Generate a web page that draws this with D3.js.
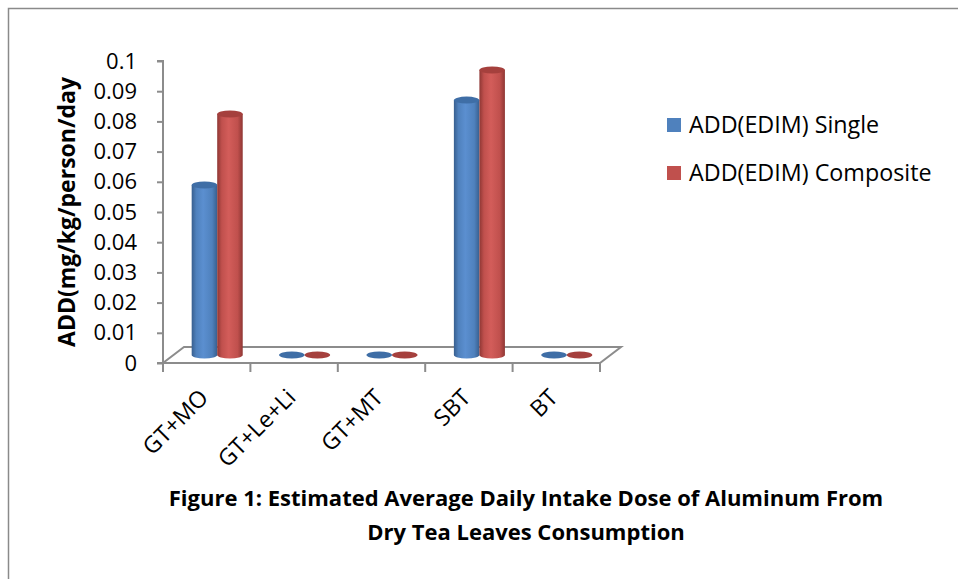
<!DOCTYPE html>
<html>
<head>
<meta charset="utf-8">
<script src="https://cdn.jsdelivr.net/npm/d3@7"></script>
<style>
  html, body { margin: 0; padding: 0; background: #fff; }
  svg { display: block; }
  text { font-family: "Open Sans", Lato, sans-serif; fill: #000; }
</style>
</head>
<body>
<svg id="chart" width="958" height="579"></svg>
<script>
// Data
const categories = ["GT+MO", "GT+Le+Li", "GT+MT", "SBT", "BT"];
const seriesNames = ["ADD(EDIM) Single", "ADD(EDIM) Composite"];
const singleValues = [0.0563, 0.0003, 0.0003, 0.0844, 0.0002];
const compositeValues = [0.0798, 0.0004, 0.0004, 0.0944, 0.0003];
const yTicks = [0, 0.01, 0.02, 0.03, 0.04, 0.05, 0.06, 0.07, 0.08, 0.09, 0.1];
const yLabel = "ADD(mg/kg/person/day";
const titleLines = ["Figure 1: Estimated Average Daily Intake Dose of Aluminum From",
                    "Dry Tea Leaves Consumption"];

const colors = {
  single:    { base: "#4F81BD", light: "#5b8fd0", dark: "#385f8f", top: "#3f6ea6" },
  composite: { base: "#C0504D", light: "#d35d5a", dark: "#8f3734", top: "#a5403d" }
};

const FONT = "'Open Sans', Lato, sans-serif";
const svg = d3.select("#chart");
const defs = svg.append("defs");

// Outer frame
svg.append("rect")
  .attr("x", 8.5).attr("y", 8.5).attr("width", 1000).attr("height", 1000)
  .attr("fill", "none").attr("stroke", "#8a8a8a").attr("stroke-width", 1.5);

// Plot geometry: front floor edge and depth offset of the 3D floor
const x0 = 163, x1 = 600, yZero = 363, yTop = 61;
const depth = { dx: 21, dy: -16 };

const x = d3.scaleBand().domain(categories).range([x0, x1]).paddingInner(0).paddingOuter(0);
const y = d3.scaleLinear().domain([0, 0.1]).range([yZero, yTop]);

// Floor (parallelogram)
const floorPts = [[x0, yZero], [x1, yZero], [x1 + depth.dx, yZero + depth.dy], [x0 + depth.dx, yZero + depth.dy]];
svg.append("path")
  .attr("d", d3.line()(floorPts) + "Z")
  .attr("fill", "#fff").attr("stroke", "#8c8c8c").attr("stroke-width", 2);

// Value axis
const yAxis = d3.axisLeft(y).tickValues(yTicks).tickSize(6).tickPadding(20)
  .tickFormat(d => d === 0 ? "0" : d3.format("~g")(d));
const gy = svg.append("g").attr("transform", `translate(${x0},0)`).call(yAxis);
gy.select(".domain").attr("stroke", "#8c8c8c").attr("stroke-width", 2)
  .attr("d", `M-6,${yTop}H0V${yZero}H-6`);
gy.selectAll(".tick line").attr("stroke", "#8c8c8c").attr("stroke-width", 2);
gy.selectAll(".tick text").attr("font-size", 22).attr("font-family", FONT).attr("fill", "#000");

// Category axis
const xAxis = d3.axisBottom(x).tickSize(0).tickFormat("");
const gx = svg.append("g").attr("transform", `translate(0,${yZero})`).call(xAxis);
gx.select(".domain").remove();
const tickXs = categories.map(c => x(c)).concat([x1]);
gx.selectAll(".sep").data(tickXs).enter().append("line")
  .attr("x1", d => d).attr("x2", d => d).attr("y1", 0).attr("y2", 9)
  .attr("stroke", "#8c8c8c").attr("stroke-width", 2);
gx.selectAll(".catlabel").data(categories).enter().append("text")
  .attr("transform", d => `translate(${x(d) + x.bandwidth() / 2 + 3},${36}) rotate(-45)`)
  .attr("text-anchor", "end")
  .attr("font-size", 23).attr("font-family", FONT)
  .text(d => d);

// Gradients for cylinder shading
function makeGradient(id, c) {
  const g = defs.append("linearGradient").attr("id", id).attr("x1", "0%").attr("x2", "100%");
  g.append("stop").attr("offset", "0%").attr("stop-color", c.dark);
  g.append("stop").attr("offset", "18%").attr("stop-color", c.base);
  g.append("stop").attr("offset", "45%").attr("stop-color", c.light);
  g.append("stop").attr("offset", "80%").attr("stop-color", c.base);
  g.append("stop").attr("offset", "100%").attr("stop-color", c.dark);
}
makeGradient("gradSingle", colors.single);
makeGradient("gradComposite", colors.composite);

// Bars as cylinders placed at mid-depth of the floor
const mid = { dx: depth.dx / 2, dy: depth.dy / 2 };
const barW = x.bandwidth() * 0.292;
const ry = 3.5;
const rows = categories.map((c, i) => [
  { cat: c, s: 0, v: singleValues[i], col: colors.single, grad: "gradSingle" },
  { cat: c, s: 1, v: compositeValues[i], col: colors.composite, grad: "gradComposite" }
]).flat();

const bars = svg.append("g").selectAll("g.bar").data(rows).enter().append("g").attr("class", "bar");
bars.each(function (d) {
  const g = d3.select(this);
  const cx = x(d.cat) + x.bandwidth() / 2 + mid.dx + (d.s === 0 ? -barW / 2 : barW / 2);
  const yb = y(0) + mid.dy;
  const yt = y(d.v) + mid.dy;
  const rx = barW / 2;
  if (yb - yt > 1.5) {
    g.append("path")
      .attr("d", `M${cx - rx},${yt} L${cx - rx},${yb} A${rx},${ry} 0 0 0 ${cx + rx},${yb} L${cx + rx},${yt} Z`)
      .attr("fill", `url(#${d.grad})`);
    g.append("ellipse").attr("cx", cx).attr("cy", yt).attr("rx", rx).attr("ry", ry)
      .attr("fill", d.col.top);
  } else {
    g.append("ellipse").attr("cx", cx).attr("cy", yb).attr("rx", rx).attr("ry", ry)
      .attr("fill", d.col.top);
  }
});

// Value axis title
svg.append("text")
  .attr("transform", `translate(75,212) rotate(-90)`)
  .attr("text-anchor", "middle")
  .attr("font-size", 23).attr("font-weight", "bold").attr("font-family", FONT)
  .text(yLabel);

// Legend
const legend = svg.append("g").attr("transform", "translate(667,118)");
const legendColors = [colors.single.base, colors.composite.base];
seriesNames.forEach((name, i) => {
  const row = legend.append("g").attr("transform", `translate(0,${i * 48})`);
  row.append("rect").attr("width", 14).attr("height", 14).attr("fill", legendColors[i]);
  row.append("text").attr("x", 22).attr("y", 15).attr("font-size", 23.3).attr("font-family", FONT).text(name);
});

// Caption
svg.append("g").selectAll("text").data(titleLines).enter().append("text")
  .attr("x", 526).attr("y", (d, i) => 506 + i * 34)
  .attr("text-anchor", "middle")
  .attr("font-size", 22).attr("font-weight", "bold").attr("font-family", FONT)
  .text(d => d);
</script>
</body>
</html>
